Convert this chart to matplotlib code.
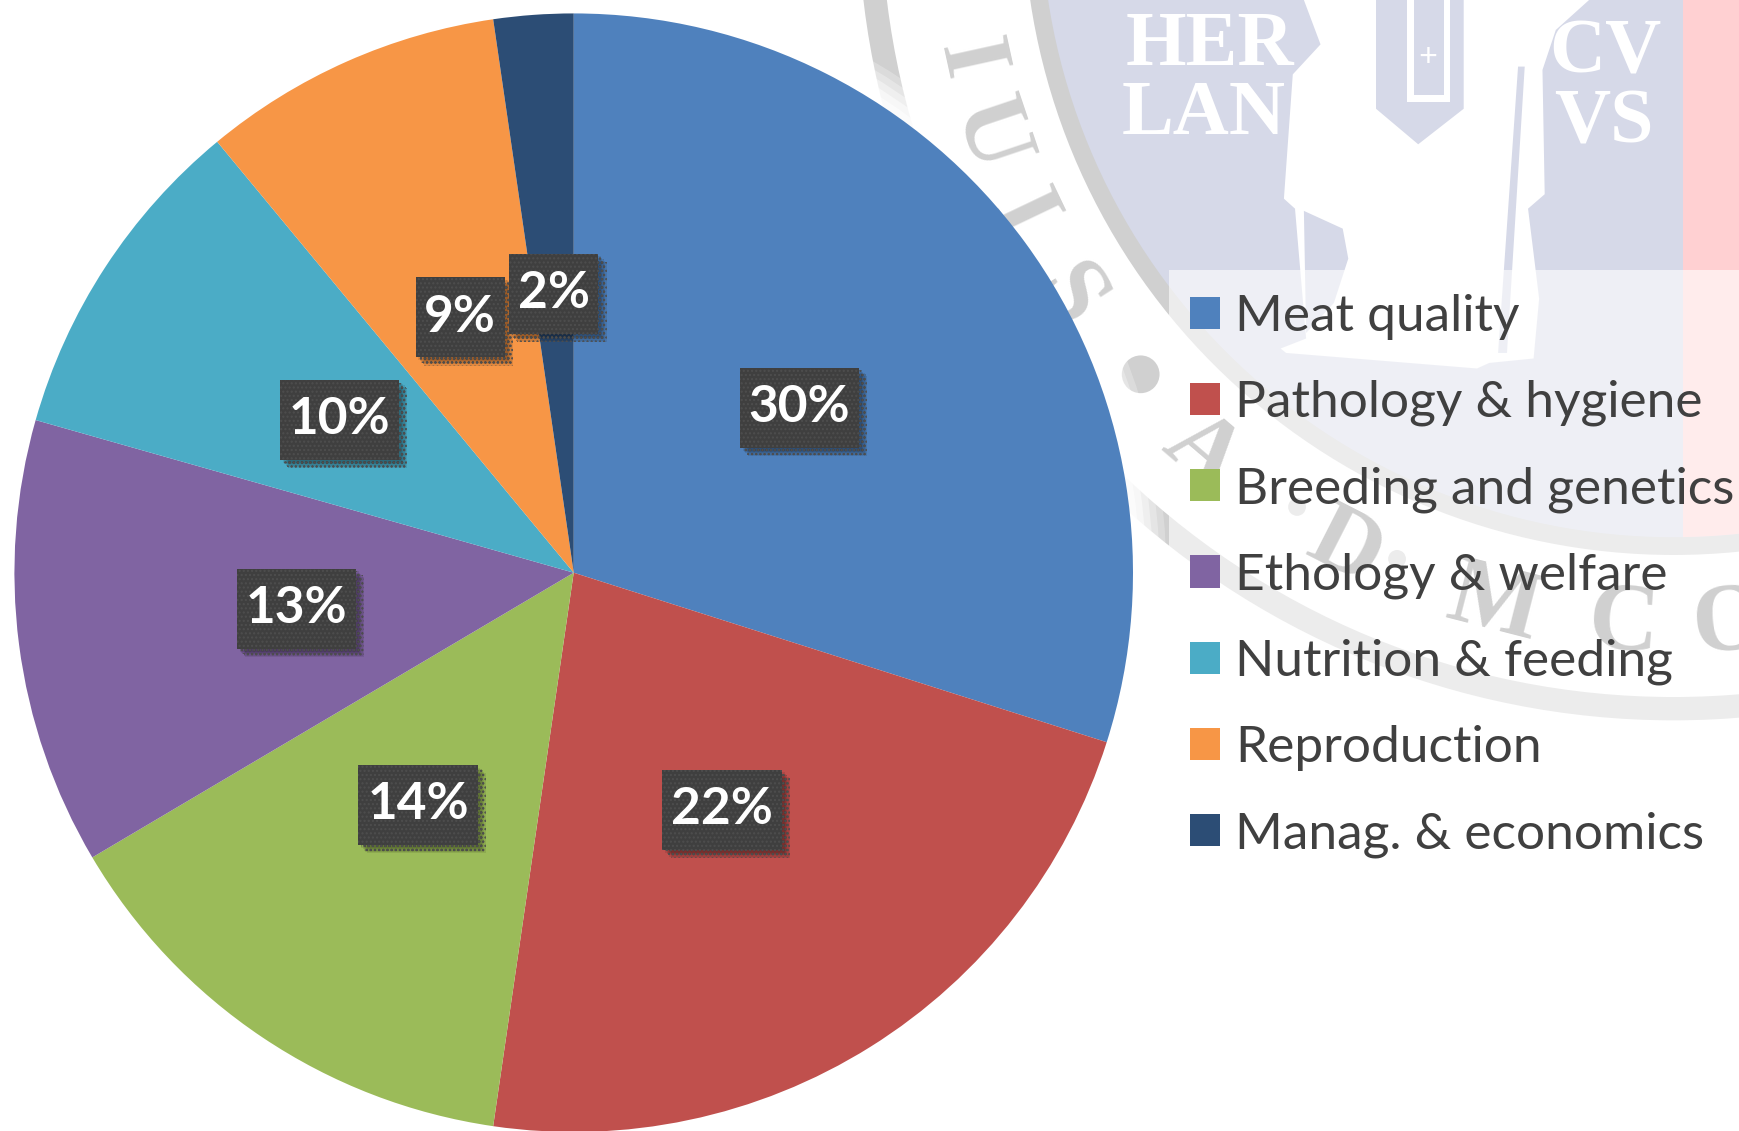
import matplotlib
matplotlib.use("Agg")
import numpy as np
from matplotlib import pyplot as plt
from matplotlib import patheffects as pe
from matplotlib.patches import Circle, Polygon, Rectangle

categories = ["Meat quality", "Pathology & hygiene", "Breeding and genetics",
              "Ethology & welfare", "Nutrition & feeding", "Reproduction",
              "Manag. & economics"]
shares = [29.9, 22.4, 14.2, 12.9, 9.6, 8.7, 2.3]
colors = ["#4F81BD", "#C0504D", "#9BBB59", "#8064A2", "#4BACC6", "#F79646", "#2C4D75"]

# seal letters running round the ring, with angle from the bottom of the seal
ring_letters = ["I", "U", "I", "S", "A", "D", "M", "C", "O"]
ring_angles = [77.6, 71.4, 64.5, 57, 40.6, 27, 14.4, 4, -4.5]
ring_dots = [48.6, 32, 22.9]

plt.rcParams["font.family"] = ["Lato", "DejaVu Sans"]

W, H = 1568, 1019  # layout is measured on the shrunk reference
fig = plt.figure(figsize=(17.4, 11.31), dpi=100)

# watermark behind the chart
bg = fig.add_axes([0, 0, 1, 1])
bg.set_xlim(0, W)
bg.set_ylim(H, 0)
bg.axis("off")

cx, cy = 1508, -86
GRAY = "#D0D0D0"
LAV = "#D6D9E8"
bg.add_patch(Circle((cx, cy), 735, fc=GRAY, ec="none"))
bg.add_patch(Circle((cx, cy), 714, fc="white", ec="none"))
bg.add_patch(Circle((cx, cy), 586, fc=GRAY, ec="none"))
inner = Circle((cx, cy), 570, fc=LAV, ec="none")
bg.add_patch(inner)
pink = Rectangle((1517, -100), 60, 700, fc="#FFD0D2", ec="none")
bg.add_patch(pink)
pink.set_clip_path(inner)

body = [(1175, 0), (1190, 40), (1165, 67), (1157, 179), (1167, 188), (1177, 305),
        (1154, 314), (1159, 318), (1331, 332), (1342, 327), (1382, 323), (1387, 269),
        (1377, 188), (1392, 175), (1390, 63), (1402, 27), (1432, 0)]
bg.add_patch(Polygon(body, fc="white", ec="none"))
shield = [(1240, 0), (1240, 98), (1278, 130), (1319, 98), (1319, 0)]
bg.add_patch(Polygon(shield, fc=LAV, ec="none"))
bg.add_patch(Polygon([(1268, 0), (1268, 92), (1307, 92), (1307, 0)], fc="white", ec="none"))
bg.add_patch(Polygon([(1274, 0), (1274, 86), (1301, 86), (1301, 0)], fc=LAV, ec="none"))
bg.add_patch(Polygon([(1175, 190), (1210, 206), (1215, 233), (1202, 273), (1177, 300)],
                     fc=LAV, ec="none"))
bg.add_patch(Polygon([(1368, 60), (1374, 60), (1358, 318), (1350, 318)], fc=LAV, ec="none"))
bg.text(1287, 52, "+", color="white", fontsize=24, ha="center", va="center",
        family="Liberation Serif", weight="bold")

for txt, x, y in [("HER", 1090, 42), ("LAN", 1085, 104), ("CV", 1447, 49), ("VS", 1445, 112)]:
    bg.text(x, y, txt, color="white", fontsize=56, ha="center", va="center",
            family="Liberation Serif", weight="bold")

for letter, a in zip(ring_letters, ring_angles):
    t = np.radians(a)
    bg.text(cx - 652 * np.sin(t), cy + 652 * np.cos(t), letter, color=GRAY, fontsize=70,
            rotation=-a, rotation_mode="anchor", ha="center", va="center",
            family="Liberation Serif", weight="bold")
for a in ring_dots:
    t = np.radians(a)
    bg.add_patch(Circle((cx - 640 * np.sin(t), cy + 640 * np.cos(t)), 17 if a > 40 else 8,
                        fc=GRAY, ec="none"))

# white glow round the pie
for extra, alpha in zip([30, 24, 18, 12, 6], [0.25, 0.3, 0.4, 0.5, 0.6]):
    bg.add_patch(Circle((517, 516), 504 + extra, fc="white", ec="none", alpha=alpha))

# legend panel
bg.add_patch(Rectangle((1053, 243), 515, 545, fc="white", ec="none", alpha=0.6))

# pie
pad = 504 / W, 504 / H
ax = fig.add_axes([517 / W - pad[0], 1 - 516 / H - pad[1], 2 * pad[0], 2 * pad[1]])
ax.patch.set_alpha(0)
wedges, texts, autotexts = ax.pie(shares, colors=colors, startangle=90, counterclock=False,
                                  autopct="%.0f%%", pctdistance=0.5,
                                  wedgeprops={"linewidth": 0})
ax.set_xlim(-1, 1)
ax.set_ylim(-1, 1)

shadow = [pe.SimplePatchShadow(offset=(o, -o), shadow_rgbFace="black", alpha=0.09)
          for o in (6, 5, 4, 3, 2)]
for t in autotexts:
    t.set_color("white")
    t.set_fontsize(37)
    t.set_fontweight("bold")
    t.set_bbox({"boxstyle": "square,pad=0.17", "fc": "#3F3F3F", "ec": "#4E4E4E",
                "lw": 0, "hatch": "...."})
    box = t.get_bbox_patch()
    box.set_mutation_aspect(1.9)
    box.set_path_effects(shadow + [pe.Normal()])

leg = fig.legend(wedges, categories, loc="upper left",
                 bbox_to_anchor=(1072 / W, 1 - 265 / H), frameon=False,
                 fontsize=37, labelcolor="#404040", handlelength=0.6, handleheight=0.6,
                 handletextpad=0.28, labelspacing=0.775, borderpad=0, borderaxespad=0)

fig.savefig("out.png", dpi=100)
